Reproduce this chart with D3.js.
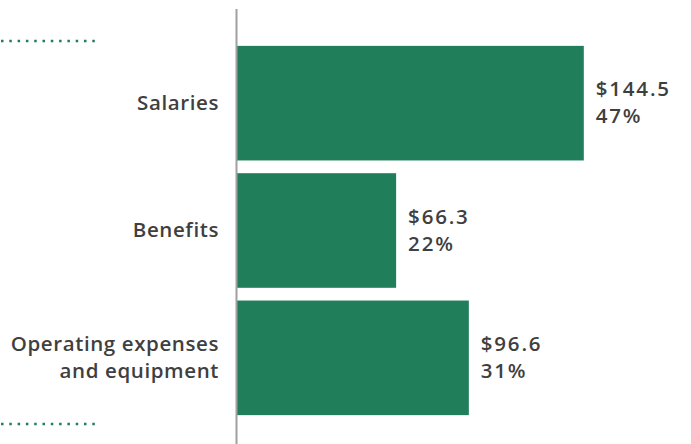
<!DOCTYPE html>
<meta charset="utf-8">
<style>
  body { margin: 0; background: #fff; }
  text { font-family: "Open Sans", "Liberation Sans", Arial, sans-serif; fill: #3f3f3f; font-weight: 600; }
</style>
<svg width="691" height="444"></svg>
<script src="https://cdn.jsdelivr.net/npm/d3@7"></script>
<script>

    var categories = ['Salaries', 'Benefits', 'Operating expenses\nand equipment']
    var amounts = [144.5, 66.3, 96.6]
    var shares = ['47%', '22%', '31%']

    var green = '#217e5b'
    var svg = d3.select('svg')

    var x0 = 237
    var x = d3.scaleLinear().domain([0, 150]).range([x0, x0 + 360])
    var y = d3.scaleBand().domain(categories).range([39.5, 421.5])
        .paddingInner(0.1).paddingOuter(0.05)

    var rows = categories.map(function (c, i) {
        return { name: c, amount: amounts[i], share: shares[i] }
    })

    // bars
    svg.append('g').selectAll('rect')
        .data(rows)
        .enter().append('rect')
        .attr('x', x(0))
        .attr('y', function (d) { return y(d.name) })
        .attr('width', function (d) { return x(d.amount) - x(0) })
        .attr('height', y.bandwidth())
        .attr('fill', green)

    // baseline
    svg.append('line')
        .attr('x1', x0 - 0.5).attr('x2', x0 - 0.5)
        .attr('y1', 9).attr('y2', 444)
        .attr('stroke', '#a0a0a0').attr('stroke-width', 2)

    // category labels
    var labels = svg.append('g').selectAll('text')
        .data(rows)
        .enter().append('text')
        .attr('text-anchor', 'end')
        .attr('font-size', 20.5)
        .attr('letter-spacing', 0.6)
        .attr('y', function (d) { return y(d.name) + y.bandwidth() / 2 })
    labels.each(function (d) {
        var lines = d.name.split('\n')
        var t = d3.select(this)
        lines.forEach(function (l, i) {
            t.append('tspan')
                .attr('x', 219)
                .attr('dy', i === 0 ? (6.5 - (lines.length - 1) * 13.5) : 27)
                .text(l)
        })
    })

    // value labels
    var vals = svg.append('g').selectAll('text')
        .data(rows)
        .enter().append('text')
        .attr('font-size', 20.5)
        .attr('letter-spacing', 1.8)
        .attr('y', function (d) { return y(d.name) + y.bandwidth() / 2 })
    vals.append('tspan')
        .attr('x', function (d) { return x(d.amount) + 12 })
        .attr('dy', -7)
        .text(function (d) { return '$' + d.amount.toFixed(1) })
    vals.append('tspan')
        .attr('x', function (d) { return x(d.amount) + 12 })
        .attr('dy', 27)
        .text(function (d) { return d.share })

    // dotted rules
    svg.selectAll('line.dots')
        .data([41, 424])
        .enter().append('line')
        .attr('class', 'dots')
        .attr('x1', 1).attr('x2', 100)
        .attr('y1', function (d) { return d }).attr('y2', function (d) { return d })
        .attr('stroke', green).attr('stroke-width', 2.5)
        .attr('stroke-dasharray', '2.5,5.8')

</script>
